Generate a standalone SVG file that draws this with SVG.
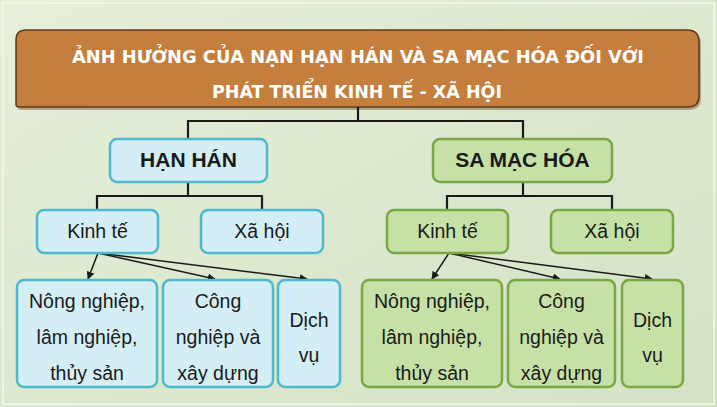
<svg xmlns="http://www.w3.org/2000/svg" width="717" height="407" viewBox="0 0 717 407">
<defs>
<linearGradient id="bg" x1="0" y1="0" x2="1" y2="1">
<stop offset="0" stop-color="#E6EFDA"/>
<stop offset="1" stop-color="#D3E2C4"/>
</linearGradient>
<marker id="arr" viewBox="0 0 10 10" refX="9" refY="5" markerWidth="8" markerHeight="8" markerUnits="userSpaceOnUse" orient="auto">
<path d="M0,0 L10,5 L0,10 z" fill="#1a1a1a"/>
</marker>
</defs>
<style>
.blue{fill:#D4EEF5;stroke:#4DB8CE;stroke-width:2.5}
.green{fill:#C6E1A6;stroke:#77A843;stroke-width:2.5}
.title{font-family:"Liberation Sans Narrow","DejaVu Sans Condensed","Liberation Sans",sans-serif;font-weight:bold;font-size:18.5px;fill:#FFFFFF;text-anchor:middle}
.head{font-family:"Liberation Sans",Arial,sans-serif;font-weight:bold;font-size:21px;fill:#1a1a1a;text-anchor:middle}
.lbl{font-family:"Liberation Sans",Arial,sans-serif;font-size:19.5px;fill:#1a1a1a;text-anchor:middle}
.ln{fill:none;stroke:#1a1a1a;stroke-width:2.2}
.ar{fill:none;stroke:#1a1a1a;stroke-width:1.5;marker-end:url(#arr)}
</style>
<rect x="0" y="0" width="717" height="407" fill="url(#bg)"/>
<rect x="3" y="3" width="711" height="401" fill="none" stroke="#F4F8EE" stroke-width="1.5"/>

<g id="title">
<path d="M28,32 H689 Q701,32 701,44 V98 Q701,110 689,110 H21 Q18,110 18,107 V42 Q18,32 28,32 z" fill="#8E6A4A" opacity="0.55"/>
<path d="M26,30 H687 Q699,30 699,42 V96 Q699,107 688,107 H19 Q16,107 16,104 V40 Q16,30 26,30 z" fill="#C47F3E" stroke="#5C3B1C" stroke-width="1.5"/>
<text class="title" x="358" y="63" textLength="572" lengthAdjust="spacingAndGlyphs">ẢNH HƯỞNG CỦA NẠN HẠN HÁN VÀ SA MẠC HÓA ĐỐI VỚI</text>
<text class="title" x="357" y="98" textLength="290" lengthAdjust="spacingAndGlyphs">PHÁT TRIỂN KINH TẾ - XÃ HỘI</text>
</g>

<g id="connectors">
<polyline class="ln" points="358,107 358,121"/>
<polyline class="ln" points="188,139 188,121 523,121 523,139"/>
<polyline class="ln" points="97,210 97,196 262,196 262,210"/>
<line class="ln" x1="188" y1="182" x2="188" y2="196"/>
<polyline class="ln" points="447,210 447,196 612,196 612,210"/>
<line class="ln" x1="523" y1="182" x2="523" y2="196"/>
<line class="ar" x1="98" y1="253" x2="88" y2="279"/>
<line class="ar" x1="98" y1="253" x2="215" y2="279"/>
<line class="ar" x1="98" y1="253" x2="307" y2="279"/>
<line class="ar" x1="449" y1="253" x2="432" y2="279"/>
<line class="ar" x1="449" y1="253" x2="560" y2="279"/>
<line class="ar" x1="449" y1="253" x2="652" y2="279"/>
</g>

<g id="han-han">
<rect class="blue" x="110" y="139" width="157" height="43" rx="7"/>
<text class="head" x="188.5" y="167">HẠN HÁN</text>
</g>
<g id="hh-kinh-te">
<rect class="blue" x="37" y="210" width="121" height="43" rx="7"/>
<text class="lbl" x="97.5" y="238">Kinh tế</text>
</g>
<g id="hh-xa-hoi">
<rect class="blue" x="201" y="210" width="122" height="43" rx="7"/>
<text class="lbl" x="262" y="238">Xã hội</text>
</g>
<g id="hh-nong-nghiep">
<rect class="blue" x="17" y="280" width="140" height="107" rx="7"/>
<text class="lbl" x="87" y="308">Nông nghiệp,</text>
<text class="lbl" x="87" y="344">lâm nghiệp,</text>
<text class="lbl" x="87" y="380">thủy sản</text>
</g>
<g id="hh-cong-nghiep">
<rect class="blue" x="163" y="280" width="110" height="107" rx="7"/>
<text class="lbl" x="218" y="308">Công</text>
<text class="lbl" x="218" y="344">nghiệp và</text>
<text class="lbl" x="218" y="380">xây dựng</text>
</g>
<g id="hh-dich-vu">
<rect class="blue" x="278" y="280" width="62" height="107" rx="7"/>
<text class="lbl" x="309" y="327">Dịch</text>
<text class="lbl" x="309" y="362">vụ</text>
</g>

<g id="sa-mac-hoa">
<rect class="green" x="433" y="139" width="179" height="43" rx="7"/>
<text class="head" x="522.5" y="167">SA MẠC HÓA</text>
</g>
<g id="sm-kinh-te">
<rect class="green" x="387" y="210" width="121" height="43" rx="7"/>
<text class="lbl" x="447.5" y="238">Kinh tế</text>
</g>
<g id="sm-xa-hoi">
<rect class="green" x="551" y="210" width="122" height="43" rx="7"/>
<text class="lbl" x="612" y="238">Xã hội</text>
</g>
<g id="sm-nong-nghiep">
<rect class="green" x="362" y="280" width="140" height="107" rx="7"/>
<text class="lbl" x="432" y="308">Nông nghiệp,</text>
<text class="lbl" x="432" y="344">lâm nghiệp,</text>
<text class="lbl" x="432" y="380">thủy sản</text>
</g>
<g id="sm-cong-nghiep">
<rect class="green" x="508" y="280" width="107" height="107" rx="7"/>
<text class="lbl" x="561.5" y="308">Công</text>
<text class="lbl" x="561.5" y="344">nghiệp và</text>
<text class="lbl" x="561.5" y="380">xây dựng</text>
</g>
<g id="sm-dich-vu">
<rect class="green" x="622" y="280" width="61" height="107" rx="7"/>
<text class="lbl" x="652.5" y="327">Dịch</text>
<text class="lbl" x="652.5" y="362">vụ</text>
</g>
</svg>
